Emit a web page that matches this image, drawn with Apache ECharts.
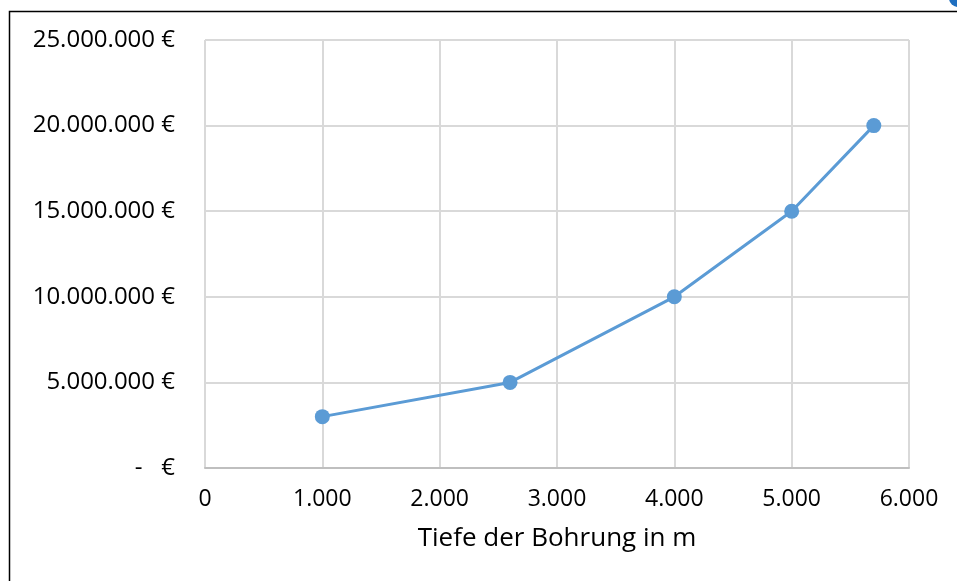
<!DOCTYPE html>
<html><head><meta charset="utf-8">
<script src="https://cdn.jsdelivr.net/npm/echarts@6/dist/echarts.min.js"></script>
<style>html,body{margin:0;padding:0;background:#fff}#c{width:957px;height:581px}</style>
</head><body><div id="c"></div>
<script>
const depths = [1000, 2600, 4000, 5000, 5700];
const costs = [3000000, 5000000, 10000000, 15000000, 20000000];
const xTicks = [0, 1000, 2000, 3000, 4000, 5000, 6000];
const yTicks = [0, 5000000, 10000000, 15000000, 20000000, 25000000];
const xTitle = 'Tiefe der Bohrung in m';

function dots(v){ return String(Math.round(v)).replace(/\B(?=(\d{3})+(?!\d))/g, '.'); }

const chart = echarts.init(document.getElementById('c'));
const font = '"Open Sans", "Noto Sans", sans-serif';
chart.setOption({
  animation: false,
  grid: {left: 205, right: 48, top: 40, bottom: 113},
  xAxis: {
    type: 'value', min: xTicks[0], max: xTicks[xTicks.length-1], interval: 1000,
    name: xTitle, nameLocation: 'middle', nameGap: 58,
    nameTextStyle: {fontFamily: font, fontSize: 26, color: '#000'},
    axisLine: {show: true, lineStyle: {color: '#bfbfbf', width: 2}},
    axisTick: {show: false},
    splitLine: {show: true, lineStyle: {color: '#d9d9d9', width: 2}},
    axisLabel: {fontFamily: font, fontSize: 23, color: '#000', margin: 20,
      formatter: v => v === 0 ? '0' : dots(v)}
  },
  yAxis: {
    type: 'value', min: yTicks[0], max: yTicks[yTicks.length-1], interval: 5000000,
    axisLine: {show: false}, axisTick: {show: false},
    splitLine: {show: true, lineStyle: {color: '#d9d9d9', width: 2}},
    axisLabel: {fontFamily: font, fontSize: 24, color: '#000', margin: 30,
      formatter: v => v === 0 ? '-   €' : dots(v) + ' €'}
  },
  series: [{
    type: 'line', data: depths.map((d, i) => [d, costs[i]]),
    lineStyle: {color: '#5B9BD5', width: 3},
    itemStyle: {color: '#5B9BD5'},
    symbol: 'circle', symbolSize: 15
  }],
  graphic: [
    {type: 'rect', shape: {x: 9.5, y: 11.5, width: 1200, height: 1200}, style: {fill: 'none', stroke: '#000', lineWidth: 1.5}, silent: true},
    {type: 'circle', shape: {cx: 958, cy: -2, r: 9}, style: {fill: '#1f6fc0'}, silent: true}
  ]
});
</script></body></html>
